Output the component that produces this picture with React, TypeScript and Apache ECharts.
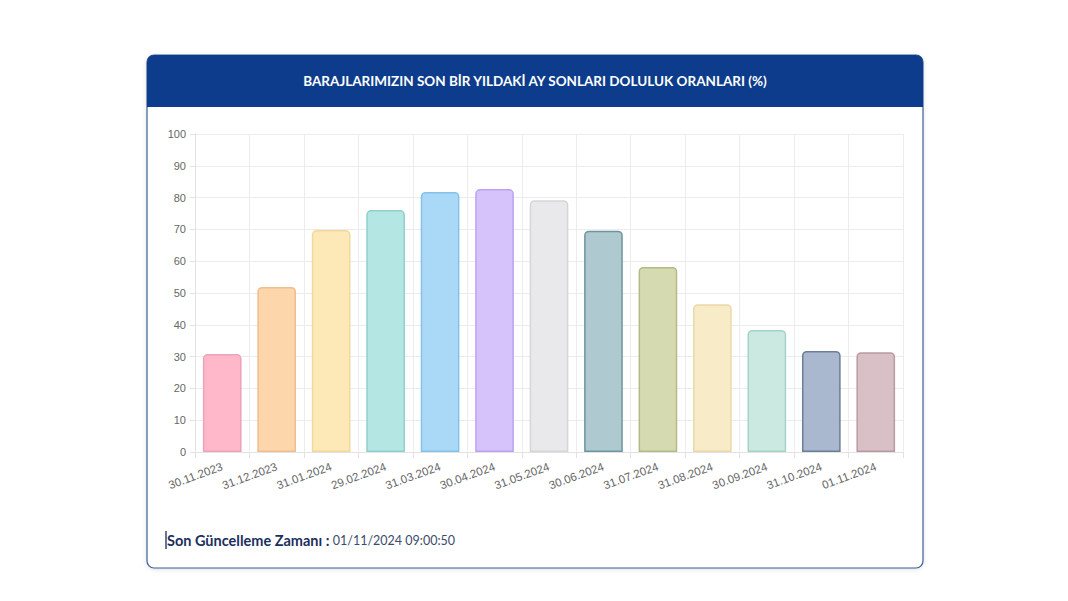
import React, { useEffect, useRef } from "react";
import * as echarts from "echarts";

const categories = [
  "30.11.2023", "31.12.2023", "31.01.2024", "29.02.2024", "31.03.2024", "30.04.2024",
  "31.05.2024", "30.06.2024", "31.07.2024", "31.08.2024", "30.09.2024", "31.10.2024", "01.11.2024",
];
const values = [30.8, 51.9, 69.8, 76.1, 81.8, 82.7, 79.2, 69.6, 58.2, 46.5, 38.4, 31.8, 31.4];
const fillColors = [
  "#ffb8c9", "#fdd6ac", "#fde9b8", "#b4e6e3", "#aad9f8", "#d7c3fb", "#e9e9eb",
  "#aecad0", "#d6dab0", "#f8ebc8", "#cbe9e0", "#a9b8cf", "#d9c0c7",
];
const borderColors = [
  "#eba3b6", "#f0bd8c", "#f2d89a", "#8fd0cc", "#86c1ea", "#bba3ef", "#d6d6d9",
  "#6e959d", "#b3b987", "#ecd9a8", "#a5d4c6", "#6c7d99", "#b99aa3",
];
const yTicks = { min: 0, max: 100, interval: 10 };
const title = "BARAJLARIMIZIN SON BİR YILDAKİ AY SONLARI DOLULUK ORANLARI (%)";
const footerLabel = "Son Güncelleme Zamanı :";
const footerValue = "01/11/2024 09:00:50";

export default function App() {
  const ref = useRef<HTMLDivElement>(null);
  useEffect(() => {
    document.body.style.margin = "0";
    const chart = echarts.init(ref.current!, undefined, { renderer: "svg" });
    chart.setOption({
      animation: false,
      backgroundColor: "#ffffff",
      graphic: [
        {
          type: "rect",
          z: -10,
          shape: { x: 147, y: 55, width: 776, height: 513, r: 7 },
          style: {
            fill: "#ffffff",
            stroke: "#3a5f97",
            lineWidth: 1.2,
            shadowBlur: 4,
            shadowColor: "rgba(0,0,0,0.12)",
            shadowOffsetY: 1,
          },
        },
        {
          type: "rect",
          z: -9,
          shape: { x: 147, y: 55, width: 776, height: 52, r: [7, 7, 0, 0] },
          style: { fill: "#0d3c8c" },
        },
        {
          type: "text",
          x: 535,
          y: 81,
          style: {
            text: title,
            fill: "#ffffff",
            font: "bold 13.5px Lato, 'Open Sans', sans-serif",
            textAlign: "center",
            textVerticalAlign: "middle",
          },
        },
        {
          type: "line",
          shape: { x1: 166, y1: 531, x2: 166, y2: 549 },
          style: { stroke: "#1b2a52", lineWidth: 1.3 },
        },
        {
          type: "text",
          x: 167,
          y: 540,
          style: {
            text: "{b|" + footerLabel + "} {v|" + footerValue + "}",
            textVerticalAlign: "middle",
            rich: {
              b: {
                fill: "#1b2f5c",
                fontWeight: "bold",
                fontSize: 14.5,
                fontFamily: "Lato, 'Open Sans', sans-serif",
              },
              v: {
                fill: "#3b4b6b",
                fontSize: 12.5,
                fontFamily: "Lato, 'Open Sans', sans-serif",
              },
            },
          },
        },
      ],
      grid: { left: 195, right: 165, top: 134, bottom: 149, containLabel: false },
      xAxis: {
        type: "category",
        data: categories,
        boundaryGap: true,
        axisLine: { show: true, lineStyle: { color: "#e2e2e2" } },
        axisTick: { show: true, length: 6, lineStyle: { color: "#e2e2e2" } },
        splitLine: { show: true, lineStyle: { color: "#ececec" } },
        axisLabel: {
          color: "#666666",
          fontSize: 11.5,
          fontFamily: "'Liberation Sans', Arial, sans-serif",
          rotate: 20,
          margin: 14,
          interval: 0,
        },
      },
      yAxis: {
        type: "value",
        min: yTicks.min,
        max: yTicks.max,
        interval: yTicks.interval,
        axisLine: { show: true, lineStyle: { color: "#e2e2e2" } },
        axisTick: { show: true, length: 5, lineStyle: { color: "#e2e2e2" } },
        splitLine: { show: true, lineStyle: { color: "#ececec" } },
        axisLabel: {
          color: "#666666",
          fontSize: 11,
          fontFamily: "'Liberation Sans', Arial, sans-serif",
          margin: 9,
        },
      },
      series: [
        {
          type: "bar",
          barWidth: "71%",
          data: values.map((v, i) => ({
            value: v,
            itemStyle: {
              color: fillColors[i],
              borderColor: borderColors[i],
              borderWidth: 1.5,
              borderRadius: [4, 4, 0, 0],
            },
          })),
        },
      ],
    });
    return () => chart.dispose();
  }, []);
  return (
    <div
      ref={ref}
      style={{ position: "fixed", left: 0, top: 0, width: 1068, height: 601 }}
    />
  );
}
